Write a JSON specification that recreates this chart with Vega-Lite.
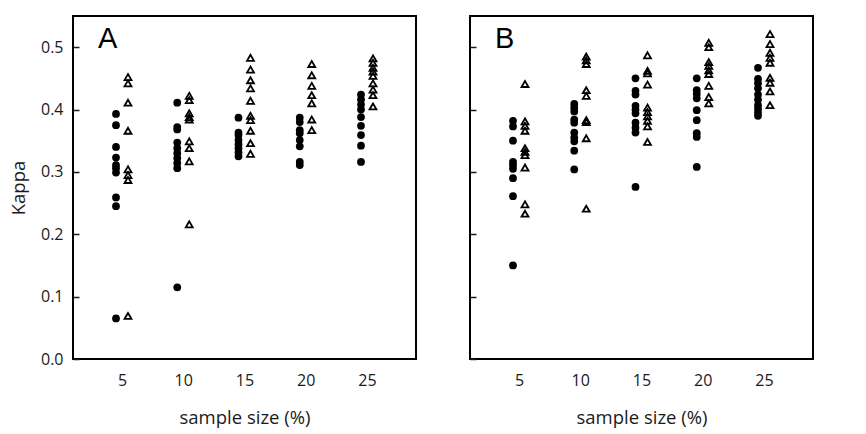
{
  "$schema": "https://vega.github.io/schema/vega-lite/v6.json",
  "autosize": {"type": "pad"},
  "padding": {"left": 8, "top": 15, "right": 5, "bottom": 2},
  "background": "white",
  "config": {
    "font": "Open Sans",
    "view": {"stroke": "black", "strokeWidth": 2},
    "axis": {"domain": false, "grid": false, "labelColor": "#1a1a1a", "titleColor": "#1a1a1a", "labelFontSize": 16, "titleFontSize": 18.5, "titleFontWeight": "normal", "tickColor": "#1a1a1a", "tickWidth": 1.5},
    "title": {"font": "Liberation Sans", "fontSize": 29, "fontWeight": "normal", "color": "black"}
  },
  "datasets": {
    "kappa": [
      {"panel": "A", "size": 5, "method": "M1", "kappa": 0.393},
      {"panel": "A", "size": 5, "method": "M1", "kappa": 0.375},
      {"panel": "A", "size": 5, "method": "M1", "kappa": 0.340},
      {"panel": "A", "size": 5, "method": "M1", "kappa": 0.323},
      {"panel": "A", "size": 5, "method": "M1", "kappa": 0.311},
      {"panel": "A", "size": 5, "method": "M1", "kappa": 0.306},
      {"panel": "A", "size": 5, "method": "M1", "kappa": 0.299},
      {"panel": "A", "size": 5, "method": "M1", "kappa": 0.259},
      {"panel": "A", "size": 5, "method": "M1", "kappa": 0.245},
      {"panel": "A", "size": 5, "method": "M1", "kappa": 0.065},
      {"panel": "A", "size": 10, "method": "M1", "kappa": 0.411},
      {"panel": "A", "size": 10, "method": "M1", "kappa": 0.372},
      {"panel": "A", "size": 10, "method": "M1", "kappa": 0.368},
      {"panel": "A", "size": 10, "method": "M1", "kappa": 0.347},
      {"panel": "A", "size": 10, "method": "M1", "kappa": 0.338},
      {"panel": "A", "size": 10, "method": "M1", "kappa": 0.330},
      {"panel": "A", "size": 10, "method": "M1", "kappa": 0.322},
      {"panel": "A", "size": 10, "method": "M1", "kappa": 0.314},
      {"panel": "A", "size": 10, "method": "M1", "kappa": 0.306},
      {"panel": "A", "size": 10, "method": "M1", "kappa": 0.115},
      {"panel": "A", "size": 15, "method": "M1", "kappa": 0.387},
      {"panel": "A", "size": 15, "method": "M1", "kappa": 0.363},
      {"panel": "A", "size": 15, "method": "M1", "kappa": 0.359},
      {"panel": "A", "size": 15, "method": "M1", "kappa": 0.351},
      {"panel": "A", "size": 15, "method": "M1", "kappa": 0.344},
      {"panel": "A", "size": 15, "method": "M1", "kappa": 0.338},
      {"panel": "A", "size": 15, "method": "M1", "kappa": 0.331},
      {"panel": "A", "size": 15, "method": "M1", "kappa": 0.325},
      {"panel": "A", "size": 20, "method": "M1", "kappa": 0.387},
      {"panel": "A", "size": 20, "method": "M1", "kappa": 0.380},
      {"panel": "A", "size": 20, "method": "M1", "kappa": 0.367},
      {"panel": "A", "size": 20, "method": "M1", "kappa": 0.362},
      {"panel": "A", "size": 20, "method": "M1", "kappa": 0.351},
      {"panel": "A", "size": 20, "method": "M1", "kappa": 0.341},
      {"panel": "A", "size": 20, "method": "M1", "kappa": 0.316},
      {"panel": "A", "size": 20, "method": "M1", "kappa": 0.311},
      {"panel": "A", "size": 25, "method": "M1", "kappa": 0.424},
      {"panel": "A", "size": 25, "method": "M1", "kappa": 0.416},
      {"panel": "A", "size": 25, "method": "M1", "kappa": 0.408},
      {"panel": "A", "size": 25, "method": "M1", "kappa": 0.400},
      {"panel": "A", "size": 25, "method": "M1", "kappa": 0.388},
      {"panel": "A", "size": 25, "method": "M1", "kappa": 0.374},
      {"panel": "A", "size": 25, "method": "M1", "kappa": 0.359},
      {"panel": "A", "size": 25, "method": "M1", "kappa": 0.342},
      {"panel": "A", "size": 25, "method": "M1", "kappa": 0.316},
      {"panel": "A", "size": 5, "method": "M2", "kappa": 0.452},
      {"panel": "A", "size": 5, "method": "M2", "kappa": 0.442},
      {"panel": "A", "size": 5, "method": "M2", "kappa": 0.411},
      {"panel": "A", "size": 5, "method": "M2", "kappa": 0.366},
      {"panel": "A", "size": 5, "method": "M2", "kappa": 0.304},
      {"panel": "A", "size": 5, "method": "M2", "kappa": 0.295},
      {"panel": "A", "size": 5, "method": "M2", "kappa": 0.287},
      {"panel": "A", "size": 5, "method": "M2", "kappa": 0.069},
      {"panel": "A", "size": 10, "method": "M2", "kappa": 0.422},
      {"panel": "A", "size": 10, "method": "M2", "kappa": 0.415},
      {"panel": "A", "size": 10, "method": "M2", "kappa": 0.394},
      {"panel": "A", "size": 10, "method": "M2", "kappa": 0.388},
      {"panel": "A", "size": 10, "method": "M2", "kappa": 0.384},
      {"panel": "A", "size": 10, "method": "M2", "kappa": 0.349},
      {"panel": "A", "size": 10, "method": "M2", "kappa": 0.338},
      {"panel": "A", "size": 10, "method": "M2", "kappa": 0.317},
      {"panel": "A", "size": 10, "method": "M2", "kappa": 0.216},
      {"panel": "A", "size": 15, "method": "M2", "kappa": 0.483},
      {"panel": "A", "size": 15, "method": "M2", "kappa": 0.464},
      {"panel": "A", "size": 15, "method": "M2", "kappa": 0.447},
      {"panel": "A", "size": 15, "method": "M2", "kappa": 0.434},
      {"panel": "A", "size": 15, "method": "M2", "kappa": 0.414},
      {"panel": "A", "size": 15, "method": "M2", "kappa": 0.390},
      {"panel": "A", "size": 15, "method": "M2", "kappa": 0.383},
      {"panel": "A", "size": 15, "method": "M2", "kappa": 0.366},
      {"panel": "A", "size": 15, "method": "M2", "kappa": 0.346},
      {"panel": "A", "size": 15, "method": "M2", "kappa": 0.329},
      {"panel": "A", "size": 20, "method": "M2", "kappa": 0.473},
      {"panel": "A", "size": 20, "method": "M2", "kappa": 0.455},
      {"panel": "A", "size": 20, "method": "M2", "kappa": 0.438},
      {"panel": "A", "size": 20, "method": "M2", "kappa": 0.423},
      {"panel": "A", "size": 20, "method": "M2", "kappa": 0.410},
      {"panel": "A", "size": 20, "method": "M2", "kappa": 0.384},
      {"panel": "A", "size": 20, "method": "M2", "kappa": 0.367},
      {"panel": "A", "size": 25, "method": "M2", "kappa": 0.482},
      {"panel": "A", "size": 25, "method": "M2", "kappa": 0.475},
      {"panel": "A", "size": 25, "method": "M2", "kappa": 0.467},
      {"panel": "A", "size": 25, "method": "M2", "kappa": 0.461},
      {"panel": "A", "size": 25, "method": "M2", "kappa": 0.454},
      {"panel": "A", "size": 25, "method": "M2", "kappa": 0.442},
      {"panel": "A", "size": 25, "method": "M2", "kappa": 0.432},
      {"panel": "A", "size": 25, "method": "M2", "kappa": 0.423},
      {"panel": "A", "size": 25, "method": "M2", "kappa": 0.405},
      {"panel": "B", "size": 5, "method": "M1", "kappa": 0.382},
      {"panel": "B", "size": 5, "method": "M1", "kappa": 0.373},
      {"panel": "B", "size": 5, "method": "M1", "kappa": 0.350},
      {"panel": "B", "size": 5, "method": "M1", "kappa": 0.316},
      {"panel": "B", "size": 5, "method": "M1", "kappa": 0.311},
      {"panel": "B", "size": 5, "method": "M1", "kappa": 0.305},
      {"panel": "B", "size": 5, "method": "M1", "kappa": 0.290},
      {"panel": "B", "size": 5, "method": "M1", "kappa": 0.261},
      {"panel": "B", "size": 5, "method": "M1", "kappa": 0.150},
      {"panel": "B", "size": 10, "method": "M1", "kappa": 0.409},
      {"panel": "B", "size": 10, "method": "M1", "kappa": 0.403},
      {"panel": "B", "size": 10, "method": "M1", "kappa": 0.397},
      {"panel": "B", "size": 10, "method": "M1", "kappa": 0.384},
      {"panel": "B", "size": 10, "method": "M1", "kappa": 0.379},
      {"panel": "B", "size": 10, "method": "M1", "kappa": 0.363},
      {"panel": "B", "size": 10, "method": "M1", "kappa": 0.355},
      {"panel": "B", "size": 10, "method": "M1", "kappa": 0.349},
      {"panel": "B", "size": 10, "method": "M1", "kappa": 0.334},
      {"panel": "B", "size": 10, "method": "M1", "kappa": 0.304},
      {"panel": "B", "size": 15, "method": "M1", "kappa": 0.450},
      {"panel": "B", "size": 15, "method": "M1", "kappa": 0.430},
      {"panel": "B", "size": 15, "method": "M1", "kappa": 0.424},
      {"panel": "B", "size": 15, "method": "M1", "kappa": 0.406},
      {"panel": "B", "size": 15, "method": "M1", "kappa": 0.400},
      {"panel": "B", "size": 15, "method": "M1", "kappa": 0.394},
      {"panel": "B", "size": 15, "method": "M1", "kappa": 0.379},
      {"panel": "B", "size": 15, "method": "M1", "kappa": 0.371},
      {"panel": "B", "size": 15, "method": "M1", "kappa": 0.363},
      {"panel": "B", "size": 15, "method": "M1", "kappa": 0.276},
      {"panel": "B", "size": 20, "method": "M1", "kappa": 0.450},
      {"panel": "B", "size": 20, "method": "M1", "kappa": 0.431},
      {"panel": "B", "size": 20, "method": "M1", "kappa": 0.425},
      {"panel": "B", "size": 20, "method": "M1", "kappa": 0.418},
      {"panel": "B", "size": 20, "method": "M1", "kappa": 0.399},
      {"panel": "B", "size": 20, "method": "M1", "kappa": 0.383},
      {"panel": "B", "size": 20, "method": "M1", "kappa": 0.362},
      {"panel": "B", "size": 20, "method": "M1", "kappa": 0.356},
      {"panel": "B", "size": 20, "method": "M1", "kappa": 0.308},
      {"panel": "B", "size": 25, "method": "M1", "kappa": 0.467},
      {"panel": "B", "size": 25, "method": "M1", "kappa": 0.449},
      {"panel": "B", "size": 25, "method": "M1", "kappa": 0.442},
      {"panel": "B", "size": 25, "method": "M1", "kappa": 0.434},
      {"panel": "B", "size": 25, "method": "M1", "kappa": 0.424},
      {"panel": "B", "size": 25, "method": "M1", "kappa": 0.416},
      {"panel": "B", "size": 25, "method": "M1", "kappa": 0.407},
      {"panel": "B", "size": 25, "method": "M1", "kappa": 0.401},
      {"panel": "B", "size": 25, "method": "M1", "kappa": 0.395},
      {"panel": "B", "size": 25, "method": "M1", "kappa": 0.390},
      {"panel": "B", "size": 5, "method": "M2", "kappa": 0.441},
      {"panel": "B", "size": 5, "method": "M2", "kappa": 0.381},
      {"panel": "B", "size": 5, "method": "M2", "kappa": 0.374},
      {"panel": "B", "size": 5, "method": "M2", "kappa": 0.366},
      {"panel": "B", "size": 5, "method": "M2", "kappa": 0.338},
      {"panel": "B", "size": 5, "method": "M2", "kappa": 0.332},
      {"panel": "B", "size": 5, "method": "M2", "kappa": 0.327},
      {"panel": "B", "size": 5, "method": "M2", "kappa": 0.307},
      {"panel": "B", "size": 5, "method": "M2", "kappa": 0.248},
      {"panel": "B", "size": 5, "method": "M2", "kappa": 0.233},
      {"panel": "B", "size": 10, "method": "M2", "kappa": 0.485},
      {"panel": "B", "size": 10, "method": "M2", "kappa": 0.479},
      {"panel": "B", "size": 10, "method": "M2", "kappa": 0.473},
      {"panel": "B", "size": 10, "method": "M2", "kappa": 0.431},
      {"panel": "B", "size": 10, "method": "M2", "kappa": 0.422},
      {"panel": "B", "size": 10, "method": "M2", "kappa": 0.383},
      {"panel": "B", "size": 10, "method": "M2", "kappa": 0.380},
      {"panel": "B", "size": 10, "method": "M2", "kappa": 0.354},
      {"panel": "B", "size": 10, "method": "M2", "kappa": 0.241},
      {"panel": "B", "size": 15, "method": "M2", "kappa": 0.487},
      {"panel": "B", "size": 15, "method": "M2", "kappa": 0.462},
      {"panel": "B", "size": 15, "method": "M2", "kappa": 0.458},
      {"panel": "B", "size": 15, "method": "M2", "kappa": 0.440},
      {"panel": "B", "size": 15, "method": "M2", "kappa": 0.403},
      {"panel": "B", "size": 15, "method": "M2", "kappa": 0.396},
      {"panel": "B", "size": 15, "method": "M2", "kappa": 0.389},
      {"panel": "B", "size": 15, "method": "M2", "kappa": 0.382},
      {"panel": "B", "size": 15, "method": "M2", "kappa": 0.373},
      {"panel": "B", "size": 15, "method": "M2", "kappa": 0.348},
      {"panel": "B", "size": 20, "method": "M2", "kappa": 0.507},
      {"panel": "B", "size": 20, "method": "M2", "kappa": 0.500},
      {"panel": "B", "size": 20, "method": "M2", "kappa": 0.476},
      {"panel": "B", "size": 20, "method": "M2", "kappa": 0.470},
      {"panel": "B", "size": 20, "method": "M2", "kappa": 0.463},
      {"panel": "B", "size": 20, "method": "M2", "kappa": 0.457},
      {"panel": "B", "size": 20, "method": "M2", "kappa": 0.438},
      {"panel": "B", "size": 20, "method": "M2", "kappa": 0.420},
      {"panel": "B", "size": 20, "method": "M2", "kappa": 0.410},
      {"panel": "B", "size": 25, "method": "M2", "kappa": 0.521},
      {"panel": "B", "size": 25, "method": "M2", "kappa": 0.505},
      {"panel": "B", "size": 25, "method": "M2", "kappa": 0.491},
      {"panel": "B", "size": 25, "method": "M2", "kappa": 0.483},
      {"panel": "B", "size": 25, "method": "M2", "kappa": 0.475},
      {"panel": "B", "size": 25, "method": "M2", "kappa": 0.451},
      {"panel": "B", "size": 25, "method": "M2", "kappa": 0.443},
      {"panel": "B", "size": 25, "method": "M2", "kappa": 0.429},
      {"panel": "B", "size": 25, "method": "M2", "kappa": 0.407}
    ]
  },
  "data": {"name": "kappa"},
  "spacing": 51,
  "hconcat": [
    {
      "width": 343,
      "height": 343,
      "title": {"text": "A", "anchor": "start", "orient": "top", "frame": "group", "baseline": "top", "offset": -40, "dx": 25, "dy": -2},
      "transform": [{"filter": "datum.panel === 'A'"}],
      "encoding": {
        "x": {"field": "size", "type": "quantitative", "scale": {"domain": [1, 29], "nice": false, "zero": false}, "axis": {"values": [5, 10, 15, 20, 25], "ticks": false, "labelPadding": 13, "title": "sample size (%)", "titlePadding": 20}},
        "y": {"field": "kappa", "type": "quantitative", "scale": {"domain": [0, 0.55], "nice": false}, "axis": {"values": [0, 0.1, 0.2, 0.3, 0.4, 0.5], "format": ".1f", "tickSize": -6, "labelPadding": 16, "title": "Kappa", "titlePadding": 12}}
      },
      "layer": [
        {"transform": [{"filter": "datum.method === 'M1'"}], "mark": {"type": "point", "shape": "circle", "filled": true, "color": "black", "opacity": 1, "size": 60, "xOffset": -6}},
        {"transform": [{"filter": "datum.method === 'M2'"}], "mark": {"type": "point", "shape": "triangle-up", "filled": false, "color": "black", "opacity": 1, "size": 48, "strokeWidth": 1.8, "xOffset": 6}}
      ]
    },
    {
      "width": 343,
      "height": 343,
      "title": {"text": "B", "anchor": "start", "orient": "top", "frame": "group", "baseline": "top", "offset": -40, "dx": 25, "dy": -2},
      "transform": [{"filter": "datum.panel === 'B'"}],
      "encoding": {
        "x": {"field": "size", "type": "quantitative", "scale": {"domain": [1, 29], "nice": false, "zero": false}, "axis": {"values": [5, 10, 15, 20, 25], "ticks": false, "labelPadding": 13, "title": "sample size (%)", "titlePadding": 20}},
        "y": {"field": "kappa", "type": "quantitative", "scale": {"domain": [0, 0.55], "nice": false}, "axis": {"values": [0, 0.1, 0.2, 0.3, 0.4, 0.5], "tickSize": -6, "labels": false, "title": null}}
      },
      "layer": [
        {"transform": [{"filter": "datum.method === 'M1'"}], "mark": {"type": "point", "shape": "circle", "filled": true, "color": "black", "opacity": 1, "size": 60, "xOffset": -6}},
        {"transform": [{"filter": "datum.method === 'M2'"}], "mark": {"type": "point", "shape": "triangle-up", "filled": false, "color": "black", "opacity": 1, "size": 48, "strokeWidth": 1.8, "xOffset": 6}}
      ]
    }
  ]
}
